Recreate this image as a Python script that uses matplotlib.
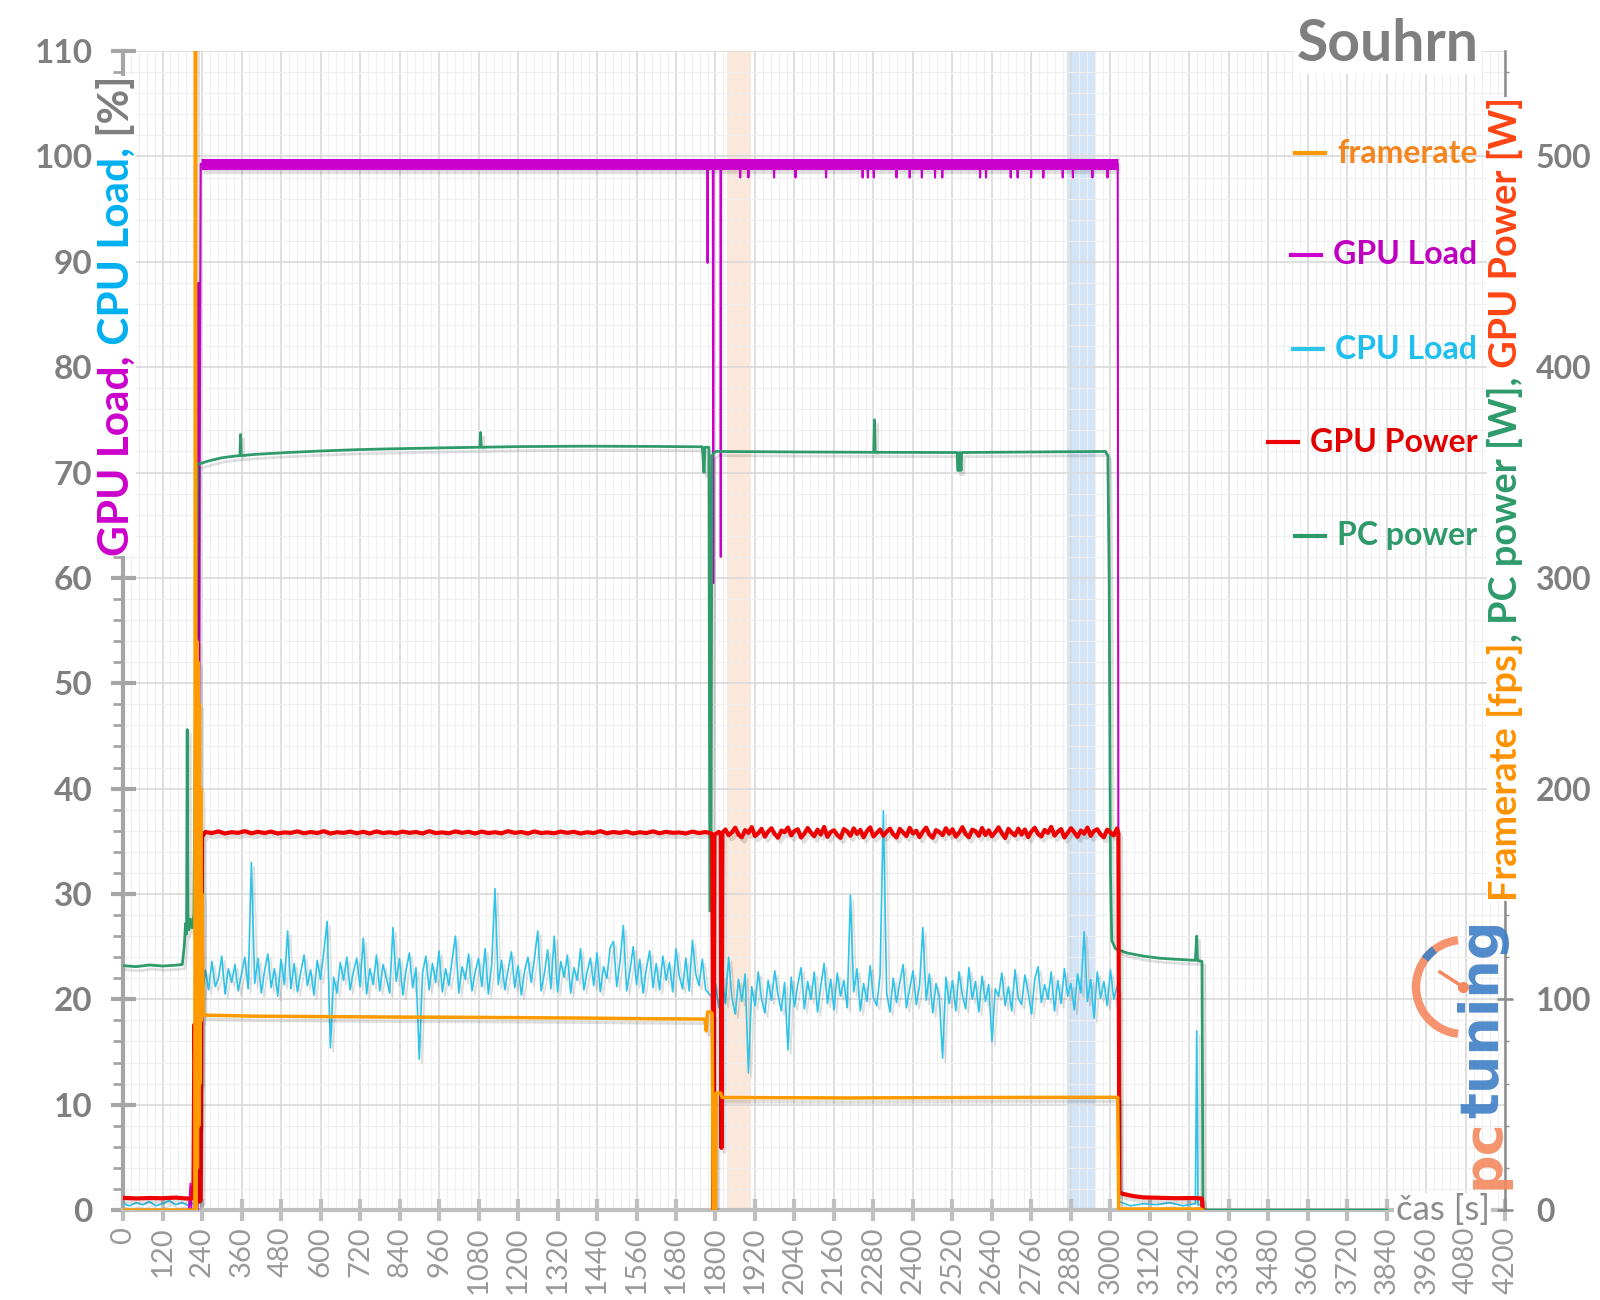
import numpy as np
import matplotlib
matplotlib.use("Agg")
import matplotlib.pyplot as plt
from matplotlib import patheffects as pe
from matplotlib.patches import Arc
from matplotlib.lines import Line2D
from matplotlib.text import Annotation
from matplotlib.ticker import MultipleLocator

plt.rcParams["font.family"] = ["Lato", "DejaVu Sans"]

# ---------------- data ----------------
# framerate [fps] (right axis)
FPS_T = [0, 218, 220, 222, 224, 226, 228, 230, 232, 234, 236, 238, 240, 243, 246, 400, 600, 800,
         1000, 1200, 1400, 1600, 1768, 1772, 1776, 1786, 1790, 1793, 1800, 1802, 1816, 1820, 2200,
         2600, 3000, 3022, 3025, 3275, 3280]
FPS_V = [0, 0, 600, 0, 270, 20, 260, 40, 240, 60, 200, 90, 150, 95, 92.5, 92.0, 91.8, 91.6,
         91.5, 91.3, 91.1, 90.8, 90.6, 85, 94, 94, 93, 0, 0, 55.5, 55.5, 53.4, 53.2,
         53.4, 53.5, 53.5, 0.5, 0.5, 0]

# GPU load [%]
GPU_BASE = 99.3
GPU_T0 = [0, 200, 205, 208, 226, 229, 231, 233, 236]
GPU_V0 = [0, 0, 2.5, 0, 0, 88, 30, 70, GPU_BASE]
GPU_DIP_T = [1776, 1793, 1816, 1875, 1900, 1978, 2043, 2136, 2247, 2263, 2281, 2350, 2390, 2427,
             2467, 2489, 2604, 2622, 2697, 2718, 2759, 2796, 2855, 2886, 2945, 2991]
GPU_DIP_V = [89.9, 59.5, 62.0, 98.0, 98.0, 98.0, 98.0, 98.0, 98.0, 98.0, 98.0, 98.0, 98.0, 98.0,
             98.0, 98.0, 98.0, 98.0, 98.0, 98.0, 98.0, 98.0, 98.0, 98.0, 98.0, 98.0]
GPU_END_T = [3022, 3025, 3280]
GPU_END_V = [GPU_BASE, 0, 0]

# CPU load [%]
CPU_PRE_T = [0, 20, 40, 60, 80, 100, 120, 140, 160, 180, 200, 220, 224, 228, 232, 240]
CPU_PRE_V = [0.6, 0.4, 0.7, 0.5, 0.8, 0.4, 0.6, 0.9, 0.5, 0.7, 0.4, 0.8, 2.5, 25.0, 1.0, 20.0]
CPU_A_START, CPU_STEP = 250, 10
CPU_A = [22.8, 20.9, 23.6, 21.2, 22.0, 24.1, 20.5, 22.9, 21.6, 23.3,
         20.8, 22.4, 24.0, 21.0, 33.0, 21.5, 23.9, 20.6, 22.7, 24.3,
         21.1, 22.9, 20.3, 23.8, 21.4, 26.5, 21.0, 23.4, 20.7, 22.6,
         24.2, 21.3, 22.8, 20.4, 23.7, 21.9, 24.5, 27.4, 15.4, 22.1,
         20.6, 23.5, 21.8, 24.0, 20.9, 22.6, 23.9, 21.2, 25.8, 20.5,
         22.9, 21.4, 24.2, 20.8, 23.3, 22.0, 20.6, 26.8, 21.7, 23.9,
         20.4, 22.8, 24.4, 21.1, 23.0, 14.3, 22.5, 24.1, 20.9, 23.4,
         21.6, 24.6, 20.7, 22.9, 21.3, 23.8, 26.0, 20.6, 23.1, 21.9,
         24.3, 20.8, 22.6, 23.9, 21.2, 24.8, 20.5, 23.3, 30.5, 21.4,
         23.7, 20.9, 22.8, 24.5, 21.1, 23.2, 20.4, 22.7, 24.0, 21.6,
         23.9, 26.5, 20.8, 22.4, 24.7, 21.0, 26.0, 20.7, 23.6, 22.1,
         24.2, 20.6, 23.0, 21.8, 24.8, 20.9, 22.6, 23.9, 21.3, 24.4,
         20.7, 23.1, 22.0, 24.9, 25.5, 21.2, 23.6, 27.0, 20.8, 22.7,
         25.0, 21.4, 23.8, 20.6, 22.9, 24.6, 21.1, 23.4, 20.9, 24.1,
         21.8, 23.5, 20.7, 24.8, 22.2, 21.0, 23.9, 20.8, 25.6, 22.4,
         21.3, 23.8, 20.9]
CPU_B_START = 1790
CPU_B = [20.2, 21.5, 19.2, 22.3, 19.6, 24.0, 20.1, 18.6, 21.9, 19.8,
         22.4, 13.0, 21.2, 19.4, 22.6, 20.0, 18.7, 21.8, 19.9, 22.7,
         20.4, 18.9, 21.6, 15.2, 22.1, 19.3, 21.4, 23.0, 19.1, 21.7,
         20.0, 22.6, 18.8, 21.3, 23.4, 19.6, 21.9, 19.0, 22.5, 20.3,
         21.8, 19.2, 29.9, 20.7, 22.9, 18.9, 21.5, 19.8, 23.2, 20.1,
         19.4, 22.3, 37.9, 20.6, 18.8, 22.0, 19.7, 21.6, 23.3, 19.2,
         21.0, 22.7, 19.5, 21.3, 26.8, 19.9, 22.4, 18.7, 21.5, 20.2,
         14.4, 22.1, 19.6, 21.8, 18.9, 22.6, 20.4, 19.1, 23.0, 20.0,
         21.7, 18.8, 22.2, 19.8, 21.4, 16.0, 21.0, 20.3, 22.5, 19.4,
         21.2, 18.9, 22.8, 20.1, 19.5, 22.3, 20.7, 18.6, 21.9, 23.1,
         19.7, 21.4, 20.0, 22.6, 18.9, 21.8, 19.6, 22.9, 20.3, 21.5,
         19.0, 22.4, 20.6, 26.4, 19.8, 21.9, 18.2, 22.6, 20.1, 21.7,
         19.4, 22.8, 20.0, 21.2]
CPU_POST_T = [3024, 3027, 3060, 3100, 3140, 3180, 3220, 3258, 3262, 3266, 3276, 3280]
CPU_POST_V = [21.0, 0.8, 0.4, 0.6, 0.5, 0.7, 0.4, 0.6, 17.0, 0.5, 0.5, 0]

# GPU power [W] (right axis)
RED_PRE_T = [0, 40, 80, 120, 160, 200, 210, 214, 217, 220, 223, 226, 229, 232, 236, 240]
RED_PRE_V = [5.8, 5.5, 5.7, 5.6, 5.9, 5.4, 5.5, 12, 88, 60, 85, 10, 50, 4, 5, 177]
RED_A_START, RED_A_STEP = 250, 20
RED_A = [179.4, 178.9, 179.7, 178.7, 179.3, 179.0, 179.8, 178.8, 179.5, 178.9,
         179.6, 178.7, 179.2, 179.0, 179.7, 178.8, 179.4, 178.9, 179.8, 178.7,
         179.3, 179.0, 179.6, 178.8, 179.5, 178.7, 179.7, 178.9, 179.3, 178.8,
         179.6, 179.0, 179.4, 178.7, 179.8, 178.9, 179.2, 178.8, 179.7, 179.0,
         179.5, 178.7, 179.6, 178.9, 179.3, 178.8, 179.8, 179.0, 179.4, 178.7,
         179.7, 178.9, 179.2, 178.8, 179.6, 179.0, 179.5, 178.7, 179.3, 178.9,
         179.8, 178.8, 179.4, 179.0, 179.6, 178.7, 179.3, 178.9, 179.7, 178.8,
         179.5, 179.0, 179.2, 178.7, 179.6, 178.9, 179.4]
RED_MID_T = [1780, 1790, 1794, 1797, 1810, 1816, 1818, 1821]
RED_MID_V = [179.0, 178.5, 0, 178.0, 179.5, 178.0, 29.5, 179.0]
RED_B_START, RED_B_STEP = 1830, 10
RED_B = [180.6, 177.9, 179.2, 181.4, 178.1, 176.9, 180.3, 179.0, 181.7, 177.5,
         178.8, 180.9, 177.2, 179.6, 181.2, 178.4, 176.7, 180.1, 179.3, 181.5,
         177.8, 179.9, 180.7, 176.8, 178.6, 181.3, 179.1, 177.4, 180.5, 178.2,
         181.8, 177.1, 179.4, 180.2, 178.0, 176.6, 180.8, 179.7, 177.6, 181.1,
         178.5, 180.4, 176.9, 179.8, 181.6, 177.3, 178.9, 180.6, 177.7, 179.5,
         181.0, 178.3, 176.8, 180.9, 179.2, 177.5, 181.4, 178.7, 180.0, 177.0,
         179.6, 181.5, 178.1, 176.7, 180.3, 179.4, 177.9, 181.2, 178.6, 180.7,
         177.2, 179.0, 181.7, 178.4, 176.9, 180.5, 179.8, 177.6, 181.3, 178.0,
         180.2, 177.4, 179.3, 181.6, 178.8, 176.6, 180.9, 179.1, 177.8, 181.0,
         178.2, 180.6, 177.0, 179.7, 181.4, 178.5, 177.3, 180.4, 179.0, 181.8,
         177.7, 179.5, 180.8, 176.8, 178.9, 181.2, 179.3, 177.1, 180.1, 178.6,
         181.5, 177.6, 179.9, 180.7, 178.3, 176.9, 180.5, 179.2, 177.8, 181.1]
RED_POST_T = [3024, 3027, 3040, 3070, 3100, 3150, 3200, 3250, 3278, 3280]
RED_POST_V = [178.5, 8.2, 7.6, 6.6, 6.0, 5.8, 5.6, 5.7, 5.5, 0]

# PC power [W] (right axis)
PC_T = [0, 40, 80, 120, 160, 180, 186, 190, 193, 195, 197, 200, 205, 210, 215, 222, 226,
        240, 260, 300, 340, 355, 357, 359, 400, 500, 600, 700, 800, 900, 1000, 1084, 1086,
        1088, 1200, 1400, 1600, 1760, 1765, 1768, 1780, 1783, 1786, 1789, 1800, 2000, 2281,
        2283, 2285, 2534, 2536, 2540, 2542, 2546, 2548, 2800, 2985, 2992, 2996, 3000, 3004,
        3015, 3050, 3100, 3150, 3200, 3258, 3262, 3264, 3278, 3281, 3840]
PC_V = [116.0, 115.5, 116.3, 115.8, 116.2, 116.5, 125, 136, 131, 228, 140, 133, 138, 134,
        140, 275, 354, 354.5, 355.5, 357, 357.8, 358, 368, 358, 358.6, 359.5, 360.2, 360.8,
        361.2, 361.5, 361.8, 362, 369, 362, 362.3, 362.5, 362.4, 362.2, 350, 362, 362, 142,
        142, 358, 360, 359.8, 359.6, 375, 359.6, 359.5, 351, 351, 359.5, 351, 359.5, 359.8,
        360, 358, 300, 160, 128, 124, 122, 120.5, 119.5, 119, 118.5, 130, 118.5, 118, 0, 0]

# highlighted intervals [s]
SPAN_ORANGE = (1835, 1909)
SPAN_BLUE = (2867, 2954)

C_FPS, C_GPU, C_CPU, C_RED, C_PC = "#ff9a00", "#cc00cc", "#2ec4ea", "#ee0000", "#2f9b6b"
GRAY = "#7f7f7f"

# ---------------- assemble series ----------------
gt, gv = list(GPU_T0), list(GPU_V0)
for t, v in sorted(zip(GPU_DIP_T, GPU_DIP_V)):
    gt += [t - 1, t, t + 1]
    gv += [GPU_BASE, v, GPU_BASE]
gt += GPU_END_T
gv += GPU_END_V

cpu_t = (CPU_PRE_T + [CPU_A_START + i * CPU_STEP for i in range(len(CPU_A))]
         + [CPU_B_START + i * CPU_STEP for i in range(len(CPU_B))] + CPU_POST_T)
cpu_v = CPU_PRE_V + CPU_A + CPU_B + CPU_POST_V

red_t = (RED_PRE_T + [RED_A_START + i * RED_A_STEP for i in range(len(RED_A))] + RED_MID_T
         + [RED_B_START + i * RED_B_STEP for i in range(len(RED_B))] + RED_POST_T)
red_v = RED_PRE_V + RED_A + RED_MID_V + RED_B + RED_POST_V

# ---------------- figure ----------------
fig = plt.figure(figsize=(16, 13), dpi=100)
ax = fig.add_axes([0.0769, 0.0692, 0.864, 0.8915])
ax2 = ax.twinx()

ax.set_xlim(0, 4200)
ax.set_ylim(0, 110)
ax2.set_ylim(0, 550)

ax.set_xticks(np.arange(0, 4201, 120))
ax.xaxis.set_minor_locator(MultipleLocator(24))
ax.set_yticks(np.arange(0, 111, 10))
ax.yaxis.set_minor_locator(MultipleLocator(2))
ax2.set_yticks(np.arange(0, 501, 100))
ax2.yaxis.set_minor_locator(MultipleLocator(20))

ax.set_axisbelow(True)
ax.grid(which="major", color="#d9d9d9", lw=1.2)
ax.grid(which="minor", color="#efefef", lw=0.8)

ax.axvspan(*SPAN_ORANGE, color="#fbe0cc", alpha=0.75, lw=0, zorder=0.5)
ax.axvspan(*SPAN_BLUE, color="#cde1f7", alpha=0.85, lw=0, zorder=0.5)

shadow = [pe.SimpleLineShadow(offset=(2, -3), shadow_color="black", alpha=0.12), pe.Normal()]

ax.plot(cpu_t, cpu_v, color=C_CPU, lw=1.2, zorder=3, path_effects=shadow)
ax.plot([GPU_T0[-1], GPU_END_T[0]], [GPU_BASE, GPU_BASE], color=C_GPU, lw=8,
        solid_capstyle="butt", zorder=4, path_effects=shadow)
ax.plot(gt, gv, color=C_GPU, lw=1.5, zorder=4)

ax2.plot(PC_T, PC_V, color=C_PC, lw=2.0, zorder=3, path_effects=shadow)
ax2.plot(red_t, red_v, color=C_RED, lw=3.0, zorder=4, path_effects=shadow)
ax2.plot(FPS_T, FPS_V, color=C_FPS, lw=2.5, zorder=5, path_effects=shadow)

# spines and ticks
ax.spines["top"].set_visible(False)
ax.spines["right"].set_visible(False)
ax.spines["left"].set_color("#a6a6a6")
ax.spines["left"].set_linewidth(3)
ax.spines["bottom"].set_color("#bfbfbf")
ax.spines["bottom"].set_linewidth(3)
for s in ("top", "left", "bottom"):
    ax2.spines[s].set_visible(False)
ax2.spines["right"].set_color("#8c8c8c")
ax2.spines["right"].set_linewidth(1.8)

ax.tick_params(axis="x", which="major", direction="inout", length=16, width=3, color="#bfbfbf",
               labelsize=21, labelcolor="#999999", labelrotation=90, pad=4)
ax.tick_params(axis="x", which="minor", length=0)
ax.tick_params(axis="y", which="major", direction="inout", length=18, width=3, color="#a6a6a6",
               labelsize=24, labelcolor=GRAY, pad=13)
ax.tick_params(axis="y", which="minor", direction="out", length=7, width=2, color="#a6a6a6")
ax2.tick_params(axis="y", which="major", direction="inout", length=12, width=1.8, color="#8c8c8c",
                labelsize=23, labelcolor=GRAY, pad=16)
ax2.tick_params(axis="y", which="minor", direction="out", length=3, width=1, color="#8c8c8c")
for lbl in ax.get_yticklabels() + ax2.get_yticklabels():
    lbl.set_fontweight("bold")


def vlabel(x, y, parts, size):
    """Stack differently coloured rotated text pieces bottom-to-top."""
    prev = None
    for s, c in parts:
        kw = dict(rotation=90, color=c, fontsize=size, fontweight="bold", ha="center", va="bottom",
                  bbox=dict(fc="white", ec="none", pad=0), zorder=6)
        if prev is None:
            prev = fig.text(x, y, s, **kw)
        else:
            prev = Annotation(s, xy=(0.5, 1.0), xycoords=prev, **kw)
            fig.add_artist(prev)
    return prev


vlabel(0.073, 0.5723, [("GPU Load,", "#cc00cc"), (" CPU Load,", "#00b0f0"), (" [%]", GRAY)], 30.5)
vlabel(0.9405, 0.307, [("Framerate [fps]", "#ff9200"), (", PC power [W],", "#2e9a6a"),
                       (" GPU Power [W]", "#ff4513")], 27.3)

fig.text(0.8675, 0.966, "Souhrn", ha="center", va="center", fontsize=41, fontweight="bold",
         color=GRAY, bbox=dict(fc="white", ec="none", pad=2), zorder=6)
fig.text(0.931, 0.0692, "čas [s]", ha="right", va="center", fontsize=25, color="#8c8c8c",
         bbox=dict(fc="white", ec="none", pad=1), zorder=6)

# legend drawn as coloured text with a short line marker
LEG = [("framerate", "#f5861f", C_FPS, 0.882), ("GPU Load", "#c000c0", C_GPU, 0.804),
       ("CPU Load", "#1ec0f0", C_CPU, 0.7315), ("GPU Power", "#e00000", C_RED, 0.660),
       ("PC power", "#2e9a6a", C_PC, 0.5877)]
leg_texts = []
for name, tc, lc, yy in LEG:
    leg_texts.append((fig.text(0.9234, yy, name, ha="right", va="center", fontsize=23,
                               fontweight="bold", color=tc, zorder=6), lc, yy))
fig.canvas.draw()
W = fig.bbox.width
for txt, lc, yy in leg_texts:
    bb = txt.get_window_extent()
    x1 = (bb.x0 - 12) / W
    x0 = (bb.x0 - 42) / W
    fig.add_artist(Line2D([x0, x1], [yy, yy], color=lc, lw=3, transform=fig.transFigure, zorder=6))

# pctuning logo (approximation)
logo_kw = dict(rotation=90, fontsize=39, fontweight="bold", ha="center", va="bottom",
               family="DejaVu Sans", alpha=0.9, zorder=7)
pc = fig.text(0.927, 0.0854, "pc", color="#f4895f", **logo_kw)
fig.add_artist(Annotation("tuning", xy=(0.5, 1.0), xycoords=pc, color="#3f7fc6", **logo_kw))
fig.add_artist(Arc((0.9144, 0.2408), 94 / 1600, 94 / 1300, theta1=95, theta2=265,
                   color="#f4895f", lw=6, transform=fig.transFigure, zorder=7, alpha=0.9))
fig.add_artist(Arc((0.9144, 0.2408), 94 / 1600, 94 / 1300, theta1=122, theta2=138,
                   color="#3f7fc6", lw=6, transform=fig.transFigure, zorder=7, alpha=0.9))
fig.add_artist(Line2D([0.900, 0.9144], [0.2523, 0.2408], color="#f4895f", lw=2.5,
                      transform=fig.transFigure, zorder=7))
fig.add_artist(Line2D([0.9144], [0.2408], marker="o", ms=7, color="#f4895f",
                      transform=fig.transFigure, zorder=7))

fig.savefig("out.png", dpi=100)
